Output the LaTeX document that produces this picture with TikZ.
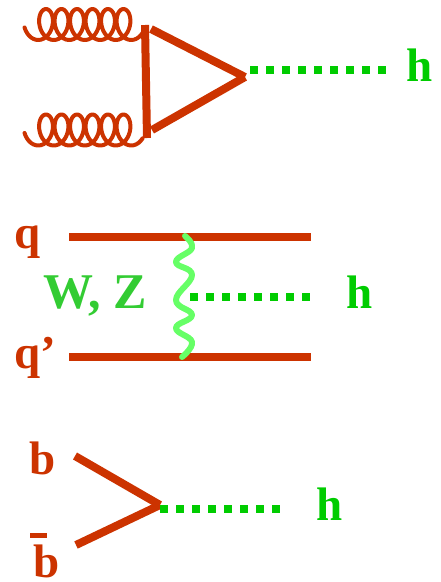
\documentclass[tikz,border=0pt]{standalone}
\usepackage{fontspec}
\setmainfont{Liberation Serif}
\definecolor{fermion}{HTML}{CC3300}
\definecolor{higgs}{HTML}{00CC00}
\definecolor{boson}{HTML}{33CC33}
\definecolor{wiggle}{HTML}{66FF66}
\tikzset{
  fermionline/.style={draw=fermion,line width=8pt},
  gluonline/.style={draw=fermion,line width=4pt,line join=round,line cap=round},
  higgsline/.style={draw=higgs,line width=7.5pt,dash pattern=on 8pt off 8pt},
  wline/.style={draw=wiggle,line width=6pt,line cap=round,line join=round},
  lab/.style={font=\bfseries\fontsize{47}{47}\selectfont,anchor=base west,inner sep=0pt,outer sep=0pt},
  redlab/.style={lab,text=fermion},
  greenlab/.style={lab,text=higgs},
}
\begin{document}
\begin{tikzpicture}[x=1pt,y=-1pt]
\useasboundingbox (0,0) rectangle (440,582);
% top diagram
\coordinate (t1) at (145,25);
\coordinate (t2) at (147,138);
\coordinate (t3) at (151,29);
\coordinate (tv) at (245,77);
\coordinate (t4) at (152,130);
\coordinate (th) at (250,70);
\coordinate (the) at (388,70);
\draw[gluonline] plot[domain=-0.72:5.66,samples=200,smooth] ({46+15.5*\x-10.5*sin(360*\x)},{24.5-15.5*cos(360*\x)});
\draw[gluonline] plot[domain=-0.72:5.66,samples=200,smooth] ({46+15.5*\x-10.5*sin(360*\x)},{130-15.5*cos(360*\x)});
\draw[fermionline] (t1) -- (t2);
\draw[fermionline] (t3) -- (tv);
\draw[fermionline] (t4) -- (tv);
\draw[higgsline] (th) -- (the);
\node[greenlab] (h1) at (406,81) {h};
% middle diagram
\coordinate (m1) at (69,237);
\coordinate (m2) at (311,237);
\coordinate (m3) at (69,357);
\coordinate (m4) at (311,357);
\coordinate (mh) at (190,297);
\coordinate (mhe) at (311,297);
\draw[fermionline] (m1) -- (m2);
\draw[fermionline] (m3) -- (m4);
\draw[wline] plot[smooth,tension=0.75] coordinates {(185,236) (192,248) (176,262) (192,275) (176,300) (192,315) (176,328) (192,342) (182,357)};
\draw[higgsline] (mh) -- (mhe);
\node[redlab] (q1) at (14,248) {q};
\node[redlab] (q2) at (14,368) {q’};
\node[lab,text=boson,font=\bfseries\fontsize{50}{50}\selectfont] (wz) at (43,308) {W, Z};
\node[greenlab] (h2) at (346,308) {h};
% bottom diagram
\coordinate (b1) at (75,456);
\coordinate (bv) at (160,505);
\coordinate (b2) at (76,545);
\coordinate (bh) at (160,509);
\coordinate (bhe) at (281,509);
\draw[fermionline] (b1) -- (bv);
\draw[fermionline] (b2) -- (bv);
\draw[higgsline] (bh) -- (bhe);
\node[redlab] (b) at (29,474) {b};
\node[redlab] (bb) at (33,577) {b};
\coordinate (bar1) at (30,535.5);
\coordinate (bar2) at (47,535.5);
\draw[draw=fermion,line width=5pt] (bar1) -- (bar2);
\node[greenlab] (h3) at (316,520) {h};
\end{tikzpicture}
\end{document}
